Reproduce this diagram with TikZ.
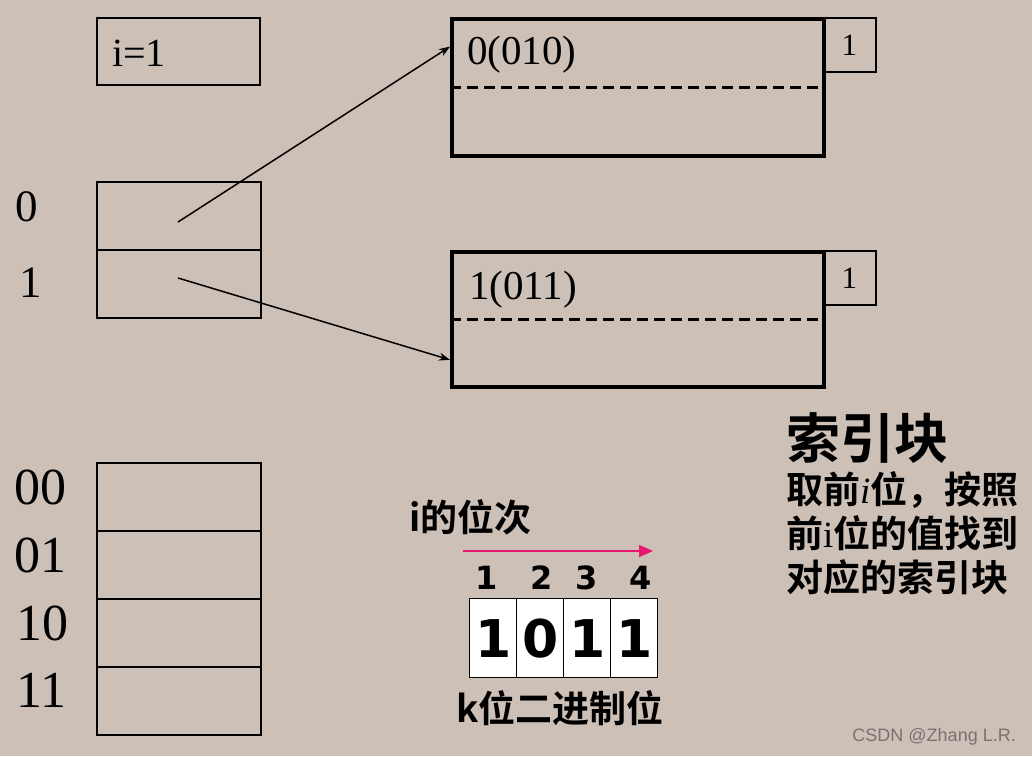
\documentclass[tikz,border=0pt]{standalone}
\usepackage{fontspec}
\setmainfont{Liberation Serif}
\newfontfamily\cjk{Noto Sans CJK SC}[BoldFont={Noto Sans CJK SC Bold}]
\newfontfamily\dvs{DejaVu Sans}
\newfontfamily\wmfont{Liberation Sans}
\usetikzlibrary{arrows.meta,calc}
\definecolor{bgc}{RGB}{204,192,183}
\definecolor{pinkarr}{RGB}{232,24,110}
\definecolor{wmc}{RGB}{120,115,112}
\begin{document}
\begin{tikzpicture}[x=1pt,y=-1pt,
  cell/.style={draw, line width=2.3pt, inner sep=0pt, minimum width=164pt, minimum height=68pt, anchor=north west},
  bucket/.style={draw, line width=4pt, inner sep=0pt, minimum width=372pt, anchor=north west},
  depthbox/.style={draw, line width=1.6pt, inner sep=0pt, minimum width=53pt, minimum height=54pt, anchor=north west, font=\fontsize{31}{34}\selectfont},
  bit/.style={draw, fill=white, line width=1.4pt, inner sep=0pt, minimum width=47pt, minimum height=79pt, anchor=north west, font=\dvs\bfseries\fontsize{52}{56}\selectfont},
  posnum/.style={font=\dvs\bfseries\fontsize{32}{36}\selectfont, inner sep=0pt},
  lab/.style={anchor=west, inner sep=0pt},
  zh/.style={anchor=west, inner sep=0pt, font=\cjk\bfseries\fontsize{37}{40}\selectfont},
  dashline/.style={line width=2.2pt, dash pattern=on 11pt off 6pt},
  ptr/.style={line width=1.5pt, -{Stealth[length=11pt,width=8pt]}},
  order/.style={draw=pinkarr, line width=1.8pt, -{Triangle[length=14pt,width=12pt,fill=pinkarr]}}
]
\fill[bgc] (0,0) rectangle (1032,756);
\useasboundingbox (0,0) rectangle (1032,756);

% global depth box
\node[cell, minimum width=163pt, minimum height=67pt] (gd) at (96,17) {};
\node[lab, font=\fontsize{40}{44}\selectfont] (gdt) at (112,53) {i=1};

% directory
\node[cell] (d0) at (96,181) {};
\node[cell] (d1) at (96,249) {};
\node[lab, font=\fontsize{45}{50}\selectfont] (l0) at (15,207) {0};
\node[lab, font=\fontsize{45}{50}\selectfont] (l1) at (19,283) {1};
\coordinate (p0) at (178,222);
\coordinate (p1) at (178,278);

% buckets
\node[bucket, minimum height=137pt] (b1) at (450,17) {};
\draw[dashline] (b1.west) -- (b1.east);
\node[depthbox] (s1) at (822,17) {1};
\node[lab, font=\fontsize{41}{46}\selectfont] (t1) at (467,55) {0(010)};

\node[bucket, minimum height=135pt] (b2) at (450,250) {};
\draw[dashline] (b2.west) -- (b2.east);
\node[depthbox] (s2) at (822,250) {1};
\node[lab, font=\fontsize{41}{46}\selectfont] (t2) at (469,290) {1(011)};

\draw[ptr] (p0) -- ($(b1.north west)!0.21!(b1.south west)$);
\draw[ptr] (p1) -- ($(b2.north west)!0.79!(b2.south west)$);

% lower directory
\node[cell] (e0) at (96,462) {};
\node[cell] (e1) at (96,530) {};
\node[cell] (e2) at (96,598) {};
\node[cell] (e3) at (96,666) {};
\node[lab, font=\fontsize{52}{56}\selectfont] (m0) at (14,487) {00};
\node[lab, font=\fontsize{52}{56}\selectfont] (m1) at (14,555) {01};
\node[lab, font=\fontsize{52}{56}\selectfont] (m2) at (16,623) {10};
\node[lab, font=\fontsize{52}{56}\selectfont] (m3) at (16,690) {11};

% bits
\node[zh] (ord) at (409,517) {i的位次};
\coordinate (a1) at (463,551);
\coordinate (a2) at (653,551);
\draw[order] (a1) -- (a2);
\node[posnum] (n1) at (487,578) {1};
\node[posnum] (n2) at (542,578) {2};
\node[posnum] (n3) at (587,578) {3};
\node[posnum] (n4) at (641,578) {4};
\node[bit] (k1) at (469,598) {1};
\node[bit] (k2) at (516,598) {0};
\node[bit] (k3) at (563,598) {1};
\node[bit] (k4) at (610,598) {1};
\node[zh] (kb) at (456,708) {k位二进制位};

% right text
\node[zh, font=\cjk\bfseries\fontsize{54}{60}\selectfont] (title) at (786,438) {索引块};
\node[zh] (r1) at (786,490) {取前{\rmfamily\mdseries\itshape i}位，按照};
\node[zh] (r2) at (786,533) {前{\rmfamily\mdseries i}位的值找到};
\node[zh] (r3) at (786,577) {对应的索引块};

% watermark
\node[anchor=east, inner sep=0pt, text=wmc, font=\wmfont\fontsize{18}{20}\selectfont] (wm) at (1016,737) {CSDN @Zhang L.R.};
\end{tikzpicture}
\end{document}
